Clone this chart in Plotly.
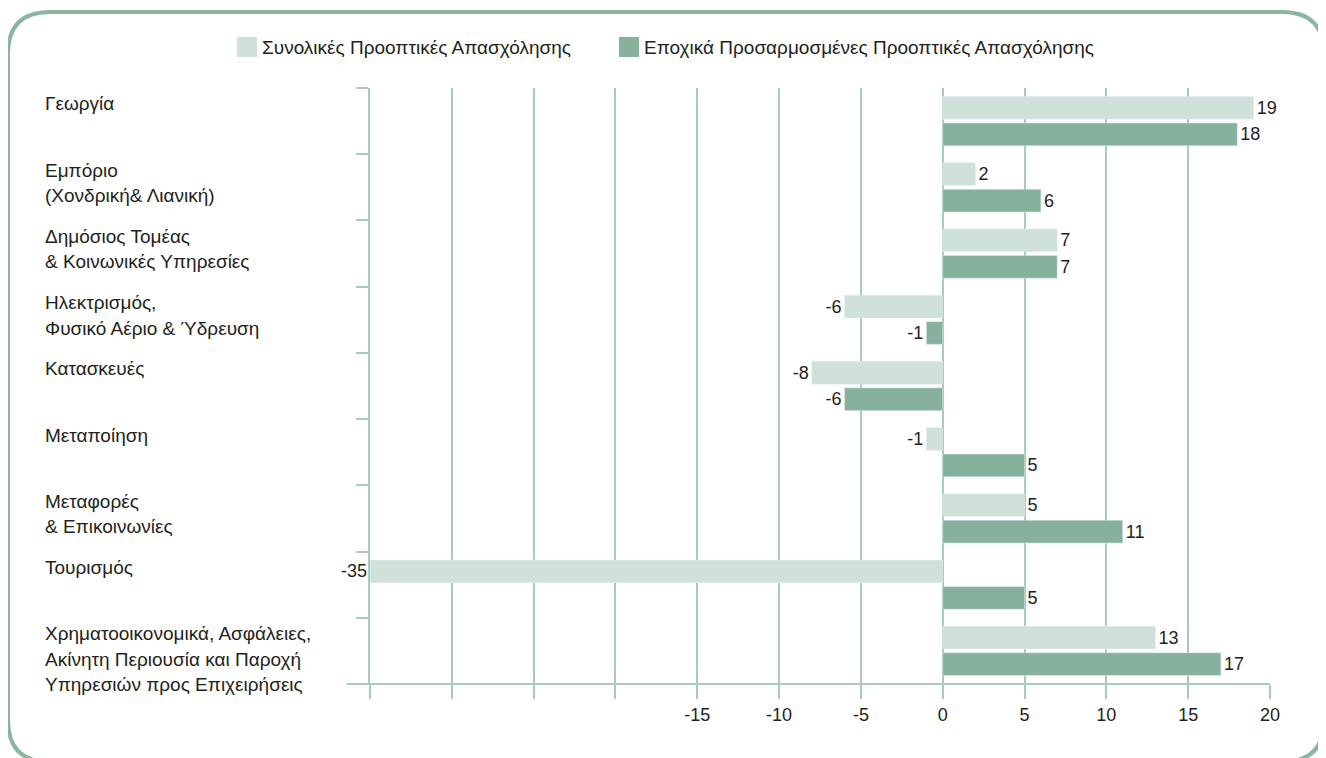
import plotly.graph_objects as go

categories = [
    "Γεωργία",
    "Εμπόριο<br>(Χονδρική& Λιανική)",
    "Δημόσιος Τομέας<br>& Κοινωνικές Υπηρεσίες",
    "Ηλεκτρισμός,<br>Φυσικό Αέριο & Ύδρευση",
    "Κατασκευές",
    "Μεταποίηση",
    "Μεταφορές<br>& Επικοινωνίες",
    "Τουρισμός",
    "Χρηματοοικονομικά, Ασφάλειες,<br>Ακίνητη Περιουσία και Παροχή<br>Υπηρεσιών προς Επιχειρήσεις",
]
total_values = [19, 2, 7, -6, -8, -1, 5, -35, 13]
seasonal_values = [18, 6, 7, -1, -6, 5, 11, 5, 17]
series_names = ["Συνολικές Προοπτικές Απασχόλησης",
                "Εποχικά Προσαρμοσμένες Προοπτικές Απασχόλησης"]
tick_values = [-35, -30, -25, -20, -15, -10, -5, 0, 5, 10, 15, 20]
tick_labels = ["", "", "", "", "-15", "-10", "-5", "0", "5", "10", "15", "20"]

LIGHT = "#cfe1d9"
DARK = "#86b29d"
GRID = "#a9cbbc"
BORDER = "#8ab59f"
TXT = "#231f20"
FONT = "Liberation Sans"

OFF = 8  # page body margin
W, H = 1326, 758
# plot area in page coordinates: x 370..1270, y 88..684
PX0, PX1, PY0, PY1 = 370, 1270, 88, 684
L, T = PX0 - OFF, PY0 - OFF
PW, PH = PX1 - PX0, PY1 - PY0
R, B = W - L - PW, H - T - PH

def px(x):  # page x -> paper
    return (x - PX0) / PW

def py(y):  # page y -> paper
    return (PY1 - y) / PH

ypos = list(range(len(categories)))

fig = go.Figure()
fig.add_trace(go.Bar(
    y=ypos, x=total_values, orientation="h", marker_color=LIGHT,
    text=[str(v) for v in total_values], textposition="outside",
    textfont=dict(size=18, color=TXT, family=FONT), cliponaxis=False,
    showlegend=False, name=series_names[0]))
fig.add_trace(go.Bar(
    y=ypos, x=seasonal_values, orientation="h", marker_color=DARK,
    text=[str(v) for v in seasonal_values], textposition="outside",
    textfont=dict(size=18, color=TXT, family=FONT), cliponaxis=False,
    showlegend=False, name=series_names[1]))

# legend drawn manually (large square swatches)
legend_x = [237, 619]
for nm, col, lx in zip(series_names, [LIGHT, DARK], legend_x):
    fig.add_shape(type="rect", xref="paper", yref="paper",
                  x0=px(lx), x1=px(lx + 20), y0=py(37), y1=py(57),
                  fillcolor=col, line=dict(width=0))
    fig.add_annotation(text=nm, xref="paper", yref="paper", x=px(lx + 23), y=py(47),
                       xanchor="left", yanchor="middle", showarrow=False,
                       font=dict(size=19, color=TXT, family=FONT))

# category labels, left aligned, one annotation per line
for i, lab in enumerate(categories):
    for j, line in enumerate(lab.split("<br>")):
        yline = PY0 + i * PH / len(categories) + 16 + j * 25.5
        fig.add_annotation(text=line, xref="paper", yref="paper",
                           x=px(43), y=py(yline), xanchor="left", yanchor="middle",
                           showarrow=False, font=dict(size=19, color=TXT, family=FONT))

# x axis baseline extending left of the plot
fig.add_shape(type="line", xref="paper", yref="paper",
              x0=px(347), x1=px(1270), y0=0, y1=0, line=dict(color=GRID, width=2))

# rounded border
x0b, x1b, y0b, y1b, r = 8, 1324, 12, 762, 42
path = (f"M {px(x0b + r)},{py(y0b)} L {px(x1b - r)},{py(y0b)} "
        f"Q {px(x1b)},{py(y0b)} {px(x1b)},{py(y0b + r)} "
        f"L {px(x1b)},{py(y1b - r)} Q {px(x1b)},{py(y1b)} {px(x1b - r)},{py(y1b)} "
        f"L {px(x0b + r)},{py(y1b)} Q {px(x0b)},{py(y1b)} {px(x0b)},{py(y1b - r)} "
        f"L {px(x0b)},{py(y0b + r)} Q {px(x0b)},{py(y0b)} {px(x0b + r)},{py(y0b)} Z")
fig.add_shape(type="path", xref="paper", yref="paper", path=path,
              line=dict(color=BORDER, width=4), layer="above")

fig.update_layout(
    width=W, height=H, margin=dict(l=L, r=R, t=T, b=B),
    paper_bgcolor="white", plot_bgcolor="white",
    barmode="group", bargap=0.2, bargroupgap=0.14,
    font=dict(family=FONT, size=18, color=TXT),
    showlegend=False,
    xaxis=dict(range=[-35, 20], tickmode="array", tickvals=tick_values,
               ticktext=tick_labels, showgrid=True, gridcolor=GRID, gridwidth=1.5,
               ticks="outside", ticklen=14, tickcolor=GRID, tickwidth=1.5,
               zeroline=False, showline=False,
               tickfont=dict(size=18, color=TXT, family=FONT)),
    yaxis=dict(range=[len(categories) - 0.5, -0.5], tickmode="array",
               tickvals=[i - 0.5 for i in range(len(categories))],
               ticktext=["" for _ in categories], showgrid=False,
               ticks="outside", ticklen=12, tickcolor=GRID, tickwidth=1.5,
               zeroline=False, showline=True, linecolor=GRID, linewidth=1.5),
)

fig.write_html("out.html")
